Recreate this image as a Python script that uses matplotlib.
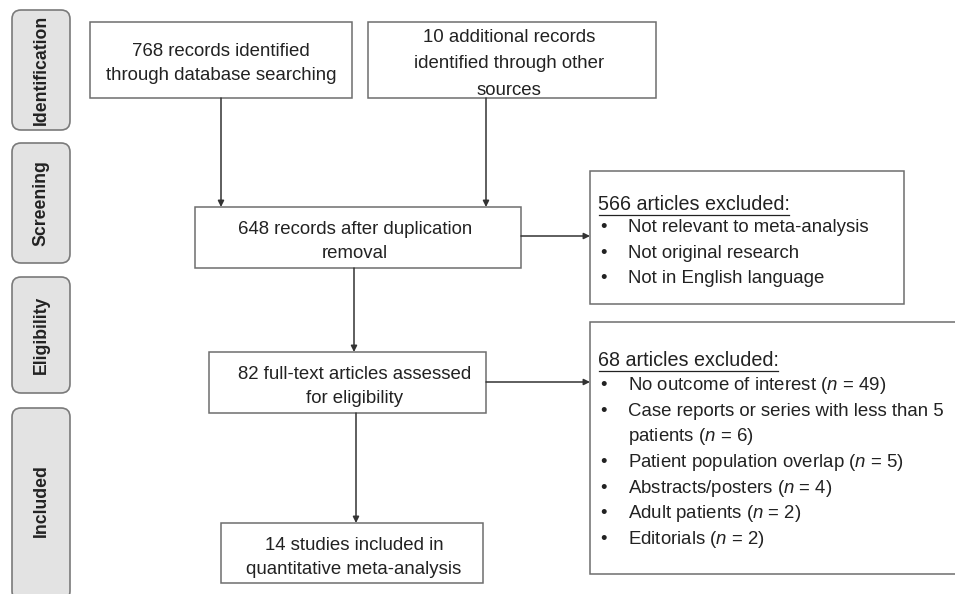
import matplotlib
matplotlib.use("Agg")
import matplotlib.pyplot as plt
from matplotlib.patches import FancyBboxPatch, Rectangle

plt.rcParams['font.family'] = ['Liberation Sans', 'DejaVu Sans']
plt.rcParams['mathtext.fontset'] = 'custom'
plt.rcParams['mathtext.it'] = 'Liberation Sans:italic'
plt.rcParams['mathtext.rm'] = 'Liberation Sans'

# stage labels on the left
stages = ['Identification', 'Screening', 'Eligibility', 'Included']
stage_spans = [(10, 130), (143, 263), (277, 393), (408, 600)]

# flow boxes: text, (x0, y0, x1, y1), text centre x
box_texts = [
    '768 records identified\nthrough database searching',
    '10 additional records\nidentified through other\nsources',
    '648 records after duplication\nremoval',
    '82 full-text articles assessed\nfor eligibility',
    '14 studies included in\nquantitative meta-analysis',
]
box_rects = [(90, 22, 352, 98), (368, 22, 656, 98), (195, 207, 521, 268),
             (209, 352, 486, 413), (221, 523, 483, 583)]
text_cx = [221, 509, 355, 355, 354]

# exclusion boxes
excl1_title = '566 articles excluded:'
excl1_items = ['Not relevant to meta-analysis', 'Not original research',
               'Not in English language']
excl2_title = '68 articles excluded:'
excl2_items = ['No outcome of interest ($n$ = 49)',
               'Case reports or series with less than 5\npatients ($n$ = 6)',
               'Patient population overlap ($n$ = 5)',
               'Abstracts/posters ($n$ = 4)',
               'Adult patients ($n$ = 2)',
               'Editorials ($n$ = 2)']

fig = plt.figure(figsize=(9.55, 5.94), dpi=100)
ax = fig.add_axes([0, 0, 1, 1])
ax.set_xlim(0, 955)
ax.set_ylim(594, 0)
ax.axis('off')

edge = '#6e6e6e'
ink = '#222222'
fs = 13.4
fs_head = 14.2
dy = 2.5  # visual centring nudge

for name, (y0, y1) in zip(stages, stage_spans):
    ax.add_patch(FancyBboxPatch((12, y0), 58, y1 - y0,
                                boxstyle='round,pad=0,rounding_size=9',
                                fc='#e3e3e3', ec='#7a7a7a', lw=1.2))
    yc = (y0 + y1) / 2 if y1 < 594 else 501
    ax.text(41, yc, name, rotation=90, ha='center', va='center',
            fontsize=12.7, fontweight='bold', color=ink)

for txt, (x0, y0, x1, y1), cx in zip(box_texts, box_rects, text_cx):
    ax.add_patch(Rectangle((x0, y0), x1 - x0, y1 - y0, fc='white', ec=edge, lw=1.1))
    lines = txt.split('\n')
    step = 26.5 if len(lines) == 3 else 24
    yc = (y0 + y1) / 2 + 1.5 - step * (len(lines) - 1) / 2
    for k, ln in enumerate(lines):
        ax.text(cx, yc + k * step + dy, ln, ha='center', va='center',
                fontsize=fs, color=ink)

# exclusion boxes
ax.add_patch(Rectangle((590, 171), 314, 133, fc='white', ec=edge, lw=1.1))
ax.add_patch(Rectangle((590, 322), 380, 252, fc='white', ec=edge, lw=1.1))


def excl_list(title, items, y_title, y_first, step):
    t = ax.text(598, y_title + dy, title, ha='left', va='center', fontsize=fs_head,
                color=ink)
    fig.canvas.draw()
    bb = t.get_window_extent().transformed(ax.transData.inverted())
    ax.plot([bb.x0 + 1, bb.x1 - 1], [bb.y0 + 0.5, bb.y0 + 0.5], color=ink, lw=0.9)
    y = y_first
    for it in items:
        ax.text(600, y + dy, '•', ha='left', va='center', fontsize=fs, color=ink)
        for ln in it.split('\n'):
            ax.text(628, y + dy, ln, ha='left', va='center', fontsize=fs, color=ink)
            y += step


excl_list(excl1_title, excl1_items, 202, 225, 25.5)
excl_list(excl2_title, excl2_items, 358, 383, 25.7)


def arrow(x0, y0, x1, y1):
    ax.annotate('', xy=(x1, y1), xytext=(x0, y0),
                arrowprops=dict(arrowstyle='-|>', color='#333333', lw=1.1,
                                mutation_scale=9, shrinkA=0, shrinkB=0))


arrow(221, 98, 221, 207)
arrow(486, 98, 486, 207)
arrow(521, 236, 590, 236)
arrow(354, 268, 354, 352)
arrow(486, 382, 590, 382)
arrow(356, 413, 356, 523)

fig.savefig('out.png', dpi=100)
